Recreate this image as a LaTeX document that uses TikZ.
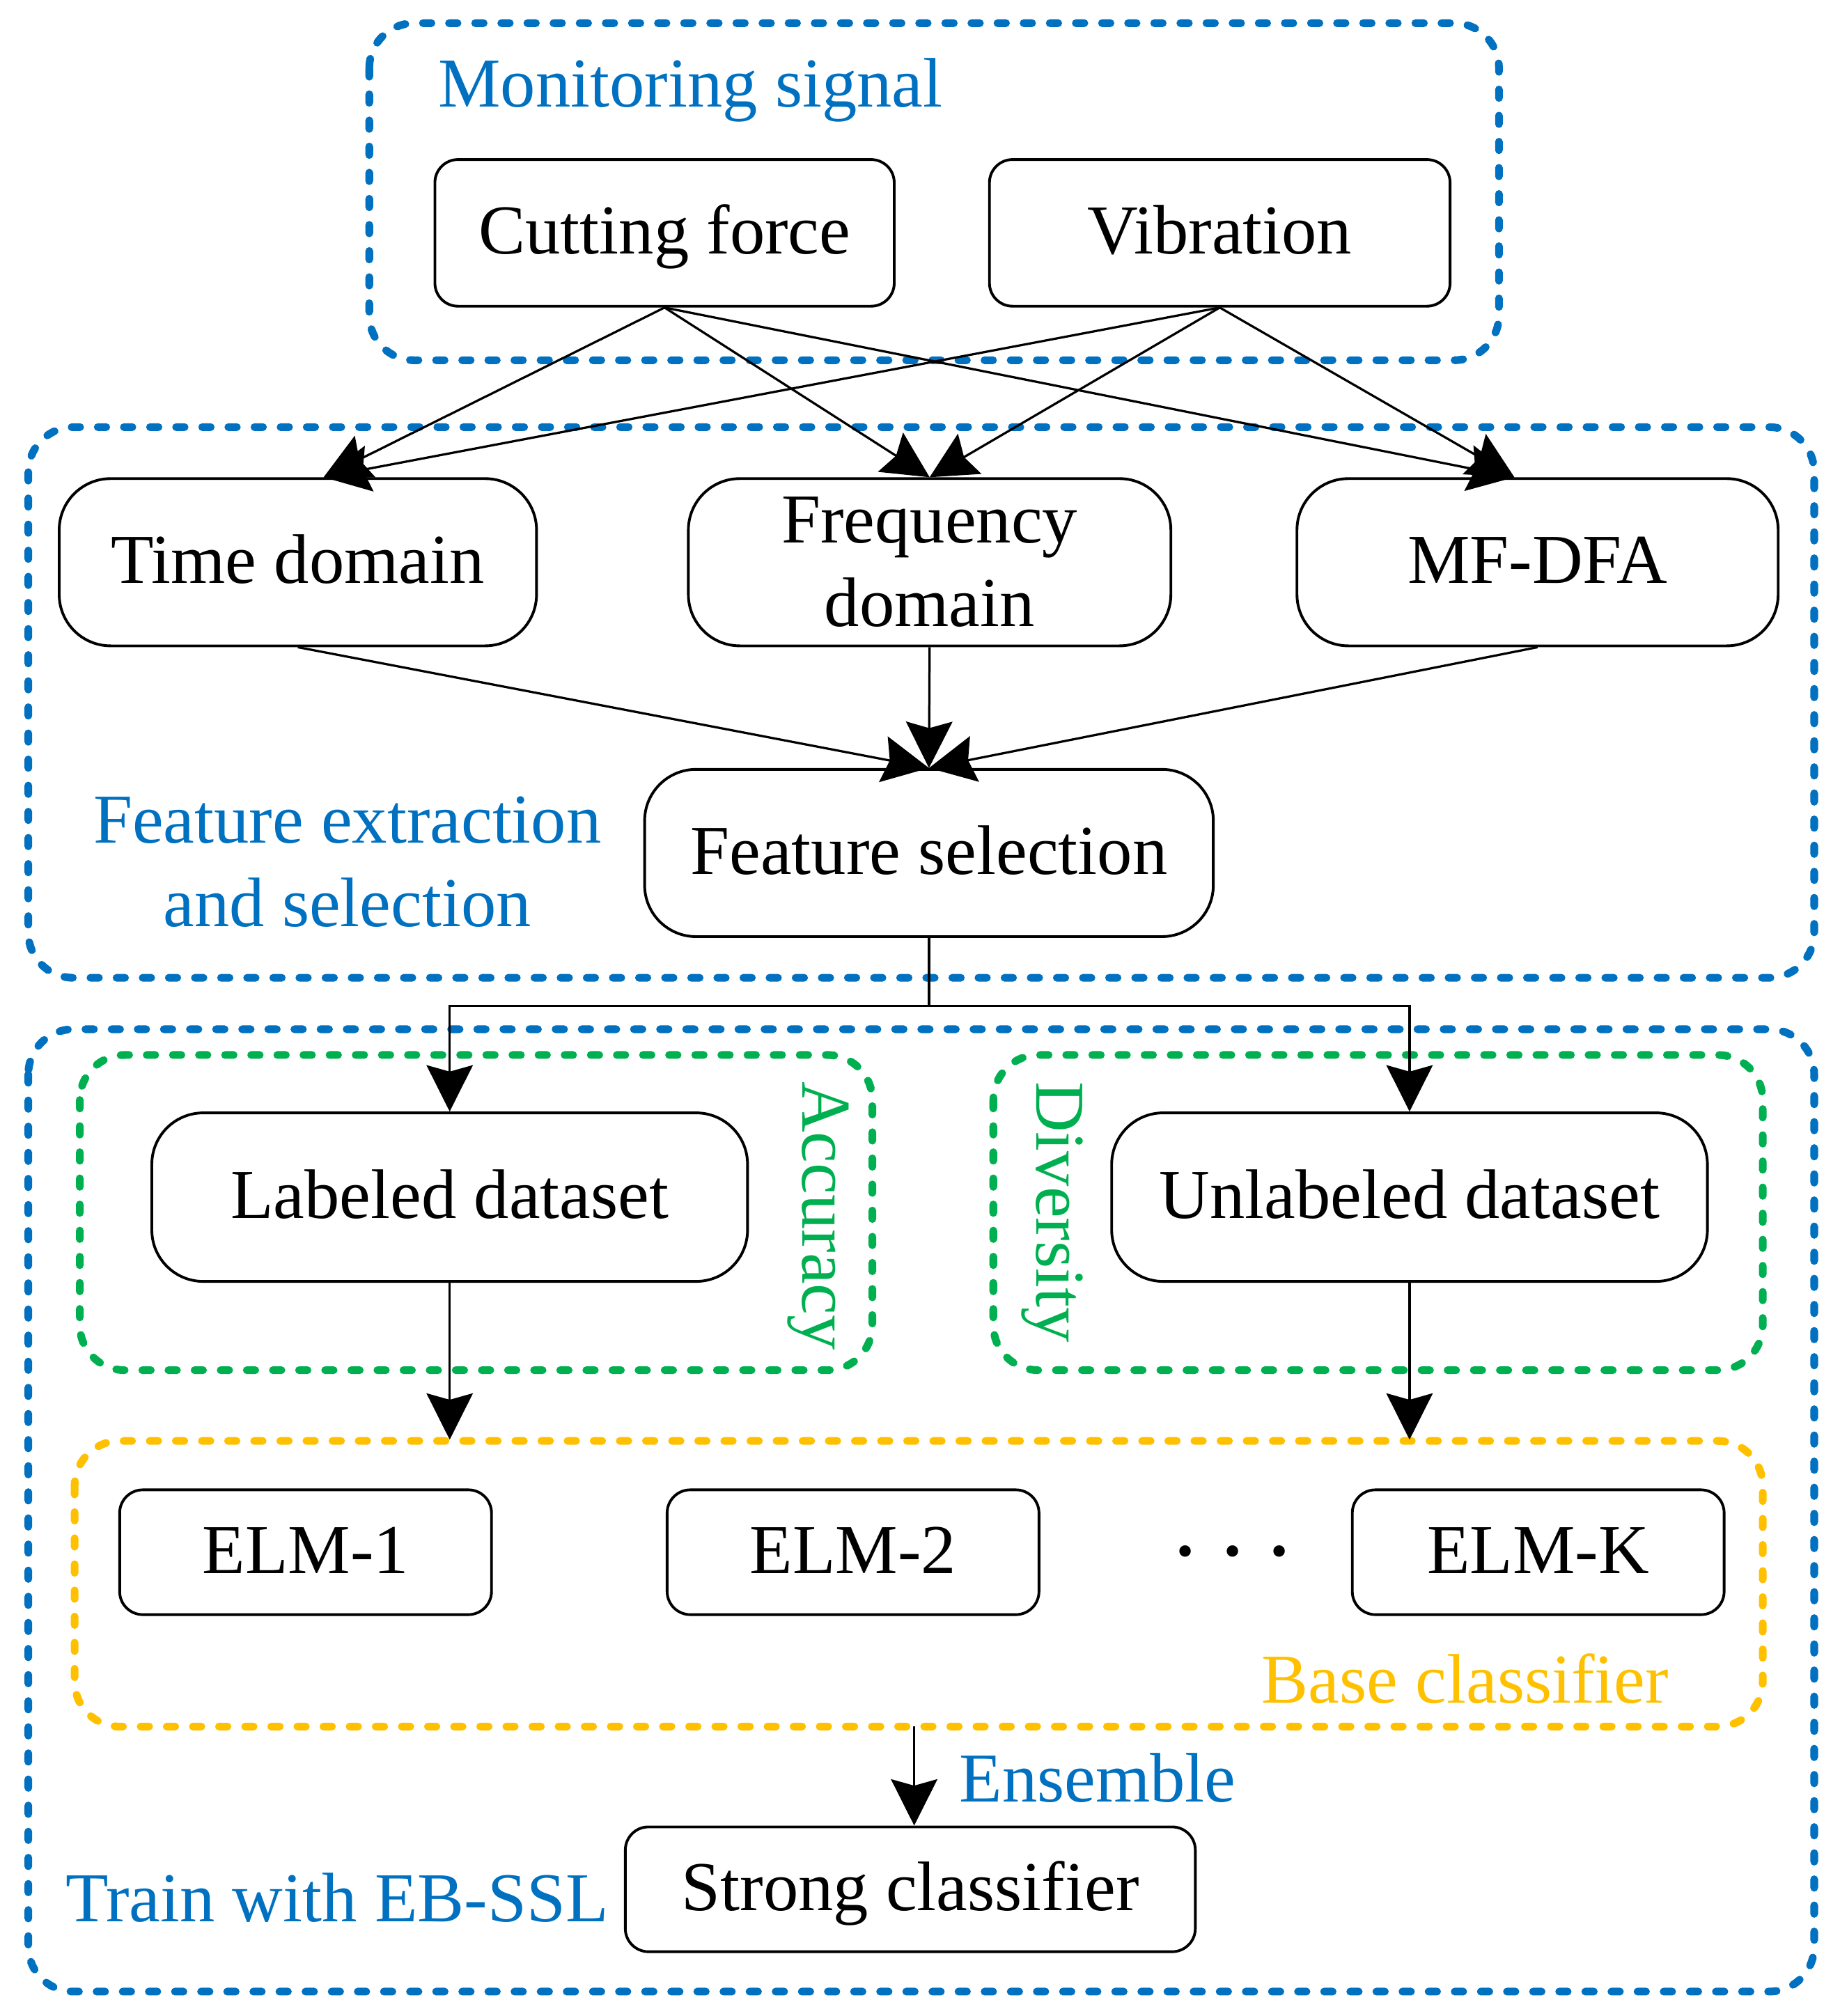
\documentclass[tikz,border=0pt]{standalone}
\usepackage{fontspec}
\setmainfont{Liberation Serif}
\usetikzlibrary{arrows.meta}
\definecolor{grpblue}{RGB}{0,112,192}
\definecolor{grpgreen}{RGB}{0,176,80}
\definecolor{grpyellow}{RGB}{255,192,0}
\tikzset{
	every node/.style={font=\fontsize{15.5}{18.5}\selectfont, inner sep=0pt},
	oneline/.style={text height=0.45cm, text depth=0.12cm},
	bigblk/.style={draw, rounded corners=0.4cm, line width=0.6pt, align=center, minimum height=1.30cm},
	smallblk/.style={draw, rounded corners=0.18cm, line width=0.6pt, align=center, oneline},
	grp/.style={line width=0.06cm, line cap=round, dash pattern=on 0.066cm off 0.137cm, rounded corners=0.35cm},
	arr/.style={-{Stealth[length=0.36cm,width=0.36cm,inset=0.05cm]}, line width=0.5pt}
}

\begin{document}
\begin{tikzpicture}
	\useasboundingbox (0,0) rectangle (14.30,-15.67);

	% group frames
	\draw[grp, grpblue] (2.87,-0.18) rectangle (11.65,-2.80);
	\draw[grp, grpblue] (0.22,-3.32) rectangle (14.10,-7.60);
	\draw[grp, grpblue] (0.22,-8.00) rectangle (14.10,-15.48);
	\draw[grp, grpgreen] (0.62,-8.20) rectangle (6.78,-10.65);
	\draw[grp, grpgreen] (7.72,-8.20) rectangle (13.70,-10.65);
	\draw[grp, grpyellow] (0.58,-11.20) rectangle (13.70,-13.42);

	% monitoring signal
	\node[smallblk, minimum width=3.57cm, minimum height=1.14cm] (cf) at (5.165,-1.81) {Cutting force};
	\node[smallblk, minimum width=3.58cm, minimum height=1.14cm] (vib) at (9.48,-1.81) {Vibration};
	\node[anchor=west, text=grpblue] (ms) at (3.40,-0.70) {Monitoring signal};

	% feature extraction
	\node[bigblk, oneline, minimum width=3.71cm] (td) at (2.315,-4.37) {Time domain};
	\node[bigblk, minimum width=3.75cm] (fd) at (7.225,-4.37) {Frequency\\domain};
	\node[bigblk, oneline, minimum width=3.74cm] (mf) at (11.95,-4.37) {MF-DFA};
	\node[bigblk, oneline, minimum width=4.42cm] (fs) at (7.22,-6.63) {Feature selection};
	\node[text=grpblue, align=center] (fes) at (2.70,-6.70) {Feature extraction\\and selection};

	\draw[arr] (cf.south) -- ([xshift=0.2cm]td.north);
	\draw[arr] (vib.south) -- ([xshift=0.2cm]td.north);
	\draw[arr] (cf.south) -- (fd.north);
	\draw[arr] (vib.south) -- (fd.north);
	\draw[arr] (cf.south) -- ([xshift=-0.18cm]mf.north);
	\draw[arr] (vib.south) -- ([xshift=-0.18cm]mf.north);

	\draw[arr] (td.south) -- (fs.north);
	\draw[arr] (fd.south) -- (fs.north);
	\draw[arr] (mf.south) -- (fs.north);

	% training
	\node[bigblk, oneline, minimum width=4.63cm, minimum height=1.31cm] (ld) at (3.495,-9.305) {Labeled dataset};
	\node[bigblk, oneline, minimum width=4.63cm, minimum height=1.31cm] (ud) at (10.955,-9.305) {Unlabeled dataset};
	\node[rotate=-90, text=grpgreen] (acc) at (6.36,-9.45) {Accuracy};
	\node[rotate=-90, text=grpgreen] (div) at (8.18,-9.42) {Diversity};

	\coordinate (split) at (7.22,-7.82);
	\draw[line width=0.5pt] (fs.south) -- (split);
	\draw[arr] (split) -| (ld.north);
	\draw[arr] (split) -| (ud.north);

	\node[smallblk, minimum width=2.89cm, minimum height=0.97cm] (e1) at (2.375,-12.065) {ELM-1};
	\node[smallblk, minimum width=2.89cm, minimum height=0.97cm] (e2) at (6.63,-12.065) {ELM-2};
	\node[smallblk, minimum width=2.89cm, minimum height=0.97cm] (ek) at (11.955,-12.065) {ELM-K};
	\node (dots) at (9.58,-12.06) {\bfseries .\hspace{0.23cm}.\hspace{0.23cm}.};
	\node[anchor=west, text=grpyellow] (bc) at (9.80,-13.05) {Base classifier};

	\coordinate (bctop) at (0,-11.19);
	\coordinate (bcbot) at (0,-13.42);
	\draw[arr] (ld.south) -- (ld.south |- bctop);
	\draw[arr] (ud.south) -- (ud.south |- bctop);

	\node[smallblk, minimum width=4.43cm, minimum height=0.97cm] (sc) at (7.075,-14.685) {Strong classifier};
	\node[anchor=west, text=grpblue] (ens) at (7.45,-13.82) {Ensemble};
	\node[text=grpblue] (tw) at (2.62,-14.75) {Train with EB-SSL};
	\draw[arr] ([xshift=0.03cm]sc.north |- bcbot) -- ([xshift=0.03cm]sc.north);
\end{tikzpicture}
\end{document}
